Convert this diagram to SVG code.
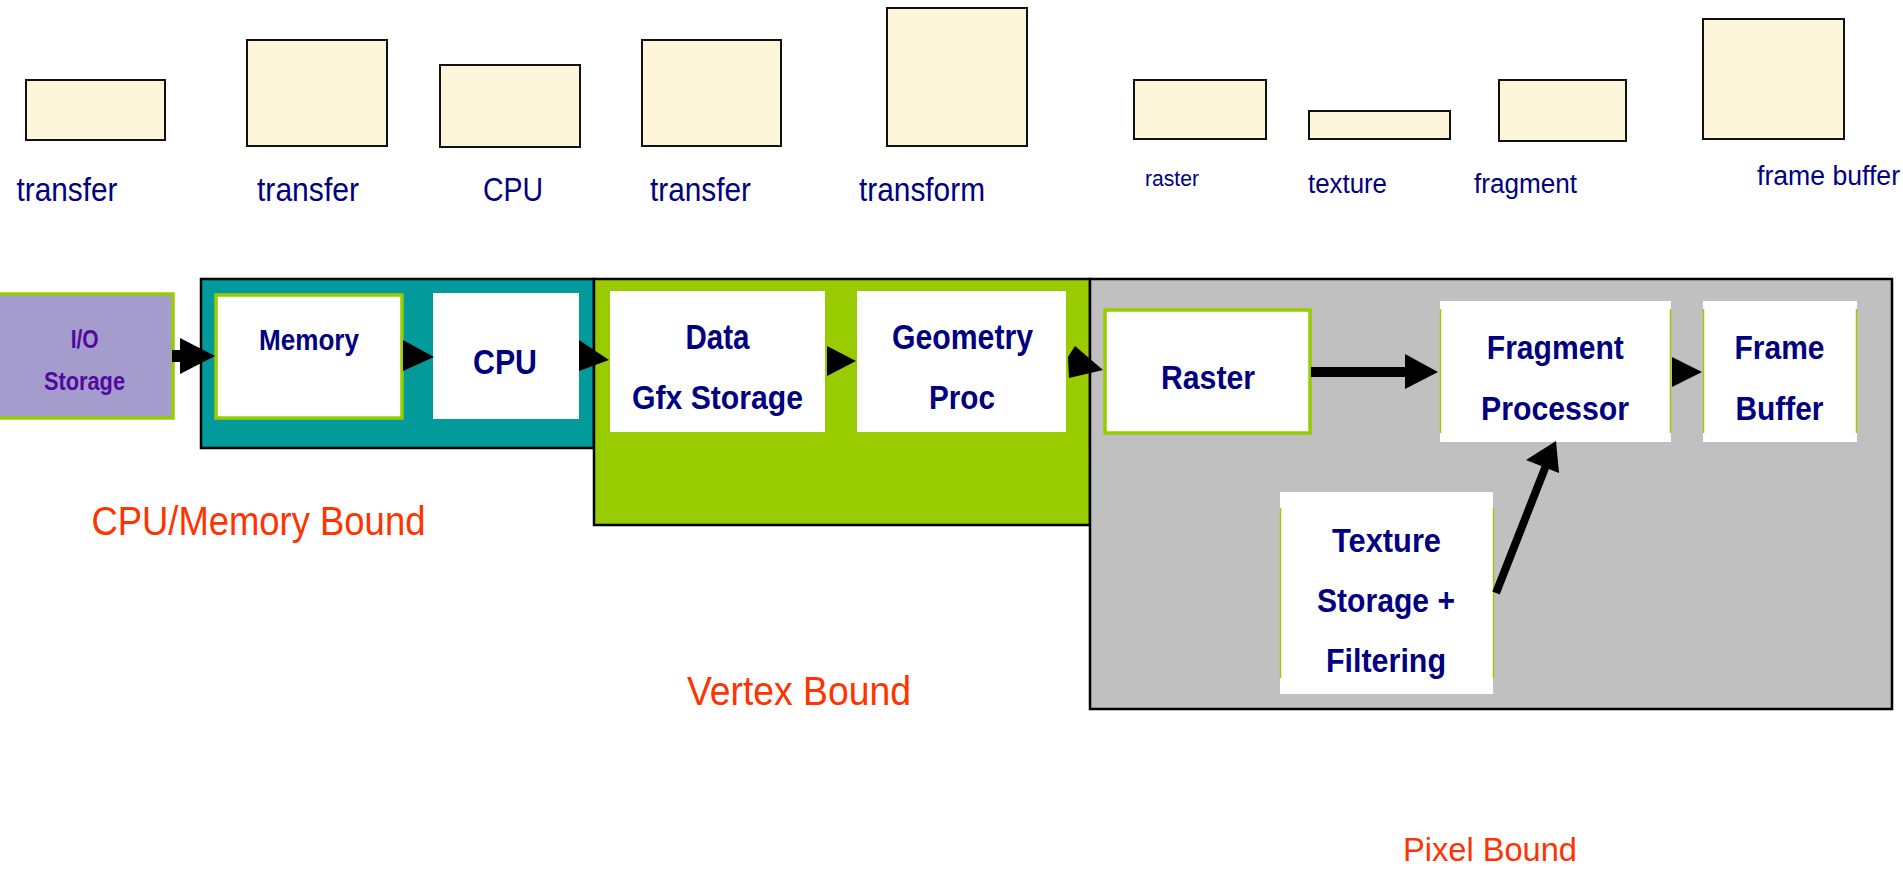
<svg xmlns="http://www.w3.org/2000/svg" width="1903" height="870" viewBox="0 0 1903 870">
<style>
  .cream{fill:#fef6da;stroke:#111;stroke-width:2}
  .lbl{font-family:"Liberation Sans",Arial,sans-serif;fill:#000080;text-anchor:middle}
  .bx{font-family:"Liberation Sans",Arial,sans-serif;fill:#000080;font-weight:bold;text-anchor:middle}
  .bound{font-family:"Liberation Sans",Arial,sans-serif;fill:#ff3300;text-anchor:middle}
  .white{fill:#ffffff}
  .gbox{fill:#ffffff;stroke:#99cc00;stroke-width:3.5}
  .gside{stroke:#99cc00;stroke-width:1.5}
  .cont{stroke:#000;stroke-width:2.5}
  .arr{fill:#000}
</style>
<rect width="1903" height="870" fill="#ffffff"/>

<g id="legend">
  <rect class="cream" x="26" y="80" width="139" height="60"/>
  <rect class="cream" x="247" y="40" width="140" height="106"/>
  <rect class="cream" x="440" y="65" width="140" height="82"/>
  <rect class="cream" x="642" y="40" width="139" height="106"/>
  <rect class="cream" x="887" y="8" width="140" height="138"/>
  <rect class="cream" x="1134" y="80" width="132" height="59"/>
  <rect class="cream" x="1309" y="111" width="141" height="28"/>
  <rect class="cream" x="1499" y="80" width="127" height="61"/>
  <rect class="cream" x="1703" y="19" width="141" height="120"/>
  <text class="lbl" x="67" y="201" font-size="34" textLength="101" lengthAdjust="spacingAndGlyphs">transfer</text>
  <text class="lbl" x="308" y="201" font-size="34" textLength="102" lengthAdjust="spacingAndGlyphs">transfer</text>
  <text class="lbl" x="513" y="201" font-size="34" textLength="60" lengthAdjust="spacingAndGlyphs">CPU</text>
  <text class="lbl" x="700.5" y="201" font-size="34" textLength="101" lengthAdjust="spacingAndGlyphs">transfer</text>
  <text class="lbl" x="922" y="201" font-size="34" textLength="126" lengthAdjust="spacingAndGlyphs">transform</text>
  <text class="lbl" x="1172" y="186" font-size="22" textLength="54" lengthAdjust="spacingAndGlyphs">raster</text>
  <text class="lbl" x="1347.5" y="193" font-size="27" textLength="79" lengthAdjust="spacingAndGlyphs">texture</text>
  <text class="lbl" x="1525.5" y="193" font-size="27" textLength="103" lengthAdjust="spacingAndGlyphs">fragment</text>
  <text class="lbl" x="1828.5" y="185" font-size="27" textLength="143" lengthAdjust="spacingAndGlyphs">frame buffer</text>
</g>

<g id="cpu-memory-region">
  <rect class="cont" x="201" y="279" width="393" height="169" fill="#029a9a"/>
</g>
<g id="vertex-region">
  <rect class="cont" x="594" y="279" width="496" height="246" fill="#99cc00"/>
</g>
<g id="pixel-region">
  <rect class="cont" x="1090" y="279" width="802" height="430" fill="#c0c0c0"/>
</g>

<g id="io-storage">
  <rect x="-2" y="294" width="175" height="124" fill="#a39ccc" stroke="#99cc00" stroke-width="3.5"/>
  <text class="bx" x="84.7" y="348" font-size="25" style="fill:#520a9e" textLength="28" lengthAdjust="spacingAndGlyphs">I/O</text>
  <text class="bx" x="84.5" y="390" font-size="25" style="fill:#520a9e" textLength="81" lengthAdjust="spacingAndGlyphs">Storage</text>
</g>

<g id="memory">
  <rect class="gbox" x="216" y="295" width="186" height="123"/>
  <text class="bx" x="309" y="350" font-size="29" textLength="100" lengthAdjust="spacingAndGlyphs">Memory</text>
</g>

<g id="cpu">
  <rect class="white" x="433" y="293" width="146" height="126"/>
  <text class="bx" x="505" y="374" font-size="35" textLength="64" lengthAdjust="spacingAndGlyphs">CPU</text>
</g>

<g id="data-gfx-storage">
  <rect class="white" x="610" y="291" width="215" height="141"/>
  <text class="bx" x="717.5" y="349" font-size="35" textLength="64" lengthAdjust="spacingAndGlyphs">Data</text>
  <text class="bx" x="717.5" y="409" font-size="34" textLength="171" lengthAdjust="spacingAndGlyphs">Gfx Storage</text>
</g>

<g id="geometry-proc">
  <rect class="white" x="857" y="291" width="209" height="141"/>
  <text class="bx" x="962.5" y="349" font-size="35" textLength="141" lengthAdjust="spacingAndGlyphs">Geometry</text>
  <text class="bx" x="962" y="409" font-size="34" textLength="66" lengthAdjust="spacingAndGlyphs">Proc</text>
</g>

<g id="raster">
  <rect class="gbox" x="1105" y="310" width="205" height="123"/>
  <text class="bx" x="1208" y="389" font-size="34" textLength="94" lengthAdjust="spacingAndGlyphs">Raster</text>
</g>

<g id="fragment-processor">
  <rect class="white" x="1440" y="301" width="231" height="141"/>
  <line class="gside" x1="1440.5" y1="309" x2="1440.5" y2="433"/>
  <line class="gside" x1="1670.5" y1="309" x2="1670.5" y2="433"/>
  <text class="bx" x="1555.3" y="359" font-size="34" textLength="137" lengthAdjust="spacingAndGlyphs">Fragment</text>
  <text class="bx" x="1555" y="420" font-size="34" textLength="148" lengthAdjust="spacingAndGlyphs">Processor</text>
</g>

<g id="frame-buffer">
  <rect class="white" x="1703" y="301" width="154" height="141"/>
  <line class="gside" x1="1703.5" y1="309" x2="1703.5" y2="433"/>
  <line class="gside" x1="1856.5" y1="309" x2="1856.5" y2="433"/>
  <text class="bx" x="1779.5" y="359" font-size="34" textLength="90" lengthAdjust="spacingAndGlyphs">Frame</text>
  <text class="bx" x="1779.5" y="420" font-size="34" textLength="88" lengthAdjust="spacingAndGlyphs">Buffer</text>
</g>

<g id="texture-storage">
  <rect class="white" x="1280" y="492" width="213" height="202"/>
  <line class="gside" x1="1280.5" y1="508" x2="1280.5" y2="678"/>
  <line class="gside" x1="1493.5" y1="508" x2="1493.5" y2="678"/>
  <text class="bx" x="1386.5" y="552" font-size="34" textLength="109" lengthAdjust="spacingAndGlyphs">Texture</text>
  <text class="bx" x="1386" y="612" font-size="34" textLength="138" lengthAdjust="spacingAndGlyphs">Storage +</text>
  <text class="bx" x="1386" y="672" font-size="34" textLength="120" lengthAdjust="spacingAndGlyphs">Filtering</text>
</g>

<g id="connectors">
  <rect class="arr" x="172" y="350" width="9" height="12"/>
  <polygon class="arr" points="180,338 215,356 180,374"/>
  <polygon class="arr" points="403,340 434,357 403,371"/>
  <polygon class="arr" points="579,340 609,360 579,371"/>
  <polygon class="arr" points="827,346 856,361 827,376"/>
  <polygon class="arr" points="1068,357 1075,346 1103,370 1069,378"/>
  <rect class="arr" x="1311" y="367" width="96" height="10"/>
  <polygon class="arr" points="1405,354 1438,372 1405,389"/>
  <polygon class="arr" points="1672,357 1702,372 1672,387"/>
  <line x1="1496" y1="593" x2="1547" y2="463" stroke="#000" stroke-width="8"/>
  <polygon class="arr" points="1556,441 1526,460 1559,473"/>
</g>

<g id="bound-labels">
  <text class="bound" x="258.4" y="535" font-size="40" textLength="334" lengthAdjust="spacingAndGlyphs">CPU/Memory Bound</text>
  <text class="bound" x="799" y="705" font-size="41" textLength="224" lengthAdjust="spacingAndGlyphs">Vertex Bound</text>
  <text class="bound" x="1490" y="861" font-size="34" textLength="174" lengthAdjust="spacingAndGlyphs">Pixel Bound</text>
</g>
</svg>
